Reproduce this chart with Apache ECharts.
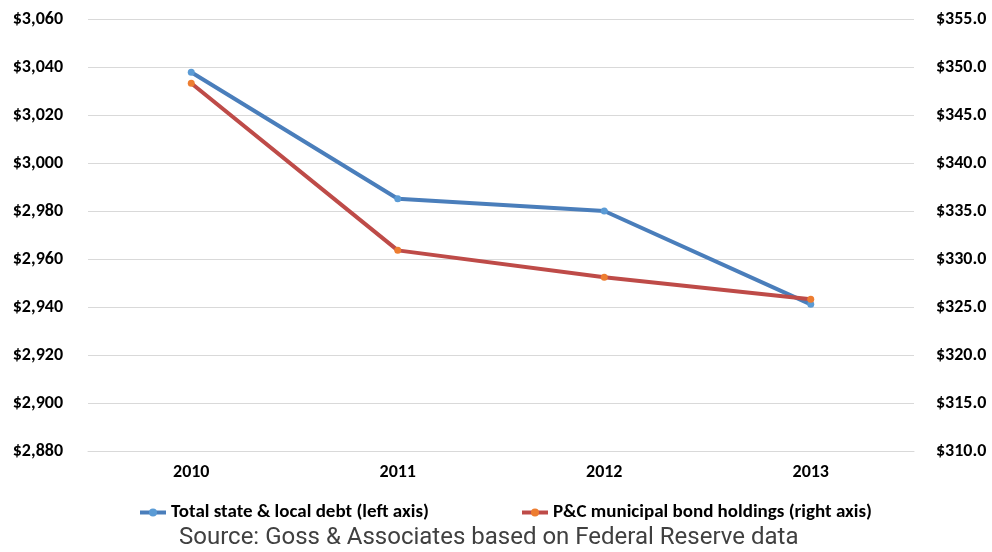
<!DOCTYPE html>
<html>
<head>
<meta charset="utf-8">
<script src="https://cdn.jsdelivr.net/npm/echarts@6/dist/echarts.min.js"></script>
<style>
  html, body { margin: 0; padding: 0; background: #ffffff; }
  #chart { width: 992px; height: 552px; }
</style>
</head>
<body>
<div id="chart"></div>
<script>
// Years on the category axis
const years = ['2010', '2011', '2012', '2013'];
// Total state & local debt, $ billions (left axis)
const totalDebt = [3037.8, 2985.1, 2980.0, 2941.1];
// P&C municipal bond holdings, $ billions (right axis)
const pcHoldings = [348.3, 330.9, 328.1, 325.8];
// Axis ranges
const leftMin = 2880, leftMax = 3060, leftStep = 20;
const rightMin = 310, rightMax = 355, rightStep = 5;

const seriesNames = ['Total state & local debt (left axis)', 'P&C municipal bond holdings (right axis)'];
const sourceNote = 'Source: Goss & Associates based on Federal Reserve data';

const labelFont = 'Carlito, Lato, "Open Sans", sans-serif';
const legendText = { fontFamily: labelFont, fontWeight: 'bold', fontSize: 19, color: '#000000' };

const chart = echarts.init(document.getElementById('chart'), null, { renderer: 'canvas' });

chart.setOption({
  backgroundColor: '#ffffff',
  animation: false,
  grid: { left: 88, right: 78, top: 19, bottom: 101 },
  legend: [{
    left: 133,
    top: 498,
    itemWidth: 26,
    itemHeight: 10,
    lineStyle: { width: 4 },
    textStyle: legendText,
    data: [seriesNames[0]]
  }, {
    left: 515,
    top: 498,
    itemWidth: 26,
    itemHeight: 10,
    lineStyle: { width: 4 },
    textStyle: legendText,
    data: [seriesNames[1]]
  }],
  graphic: [{
    type: 'text',
    left: 179,
    top: 526,
    style: {
      text: sourceNote,
      font: '24px Roboto, "Noto Sans", sans-serif',
      fill: '#404040'
    }
  }],
  xAxis: {
    type: 'category',
    data: years,
    boundaryGap: true,
    axisLine: { show: true, lineStyle: { color: '#d9d9d9', width: 1 } },
    axisTick: { show: false },
    axisLabel: { margin: 12, fontFamily: labelFont, fontWeight: 'bold', fontSize: 18, color: '#000000' }
  },
  yAxis: [{
    type: 'value',
    min: leftMin, max: leftMax, interval: leftStep,
    axisLine: { show: false },
    axisTick: { show: false },
    splitLine: { lineStyle: { color: '#d9d9d9', width: 1 } },
    axisLabel: {
      margin: 25,
      fontFamily: labelFont, fontWeight: 'bold', fontSize: 18, color: '#000000',
      formatter: v => '$' + v.toLocaleString('en-US')
    }
  }, {
    type: 'value',
    min: rightMin, max: rightMax, interval: rightStep,
    position: 'right',
    axisLine: { show: false },
    axisTick: { show: false },
    splitLine: { show: false },
    axisLabel: {
      margin: 22,
      fontFamily: labelFont, fontWeight: 'bold', fontSize: 18, color: '#000000',
      formatter: v => '$' + v.toFixed(1)
    }
  }],
  series: [{
    name: seriesNames[0],
    type: 'line',
    yAxisIndex: 0,
    data: totalDebt,
    symbol: 'circle',
    symbolSize: 7,
    lineStyle: { color: '#4a7ebb', width: 4 },
    itemStyle: { color: '#5b9bd5', borderWidth: 0 },
    z: 3
  }, {
    name: seriesNames[1],
    type: 'line',
    yAxisIndex: 1,
    data: pcHoldings,
    symbol: 'circle',
    symbolSize: 7,
    lineStyle: { color: '#be4b48', width: 4 },
    itemStyle: { color: '#ed7d31', borderWidth: 0 },
    z: 4
  }]
});
</script>
</body>
</html>
